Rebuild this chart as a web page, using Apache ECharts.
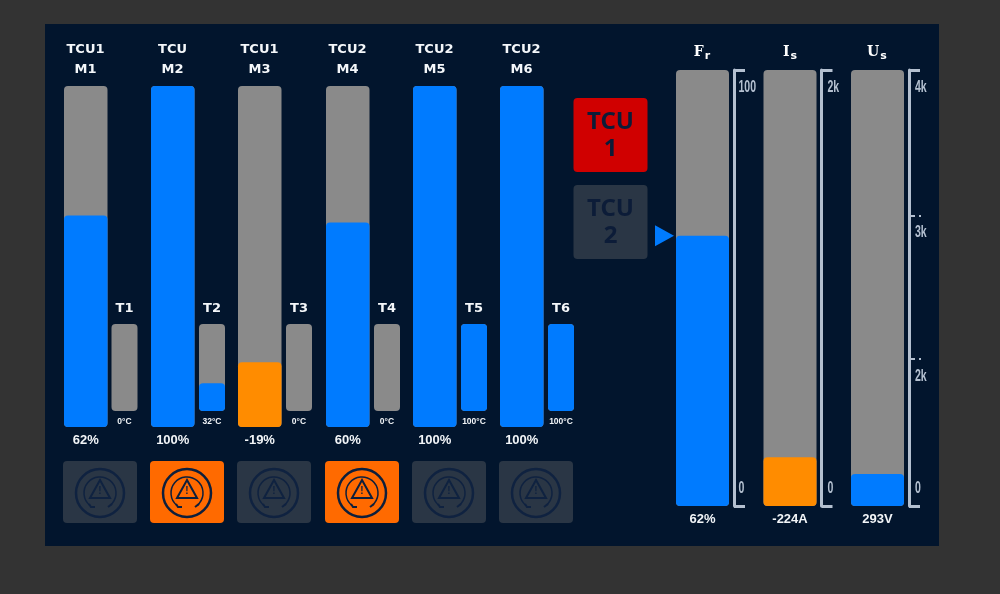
<!DOCTYPE html>
<html lang="en">
<head>
<meta charset="UTF-8">
<title>TCU motors</title>
<script src="https://cdn.jsdelivr.net/npm/echarts@6/dist/echarts.min.js"></script>
<style>
  html, body { margin: 0; padding: 0; background: #333; }
  #main { width: 1000px; height: 594px; }
</style>
</head>
<body>
<div id="main"></div>
<script>
// values
var motorOwners = ['TCU1', 'TCU', 'TCU1', 'TCU2', 'TCU2', 'TCU2'];
var motorNames = ['M1', 'M2', 'M3', 'M4', 'M5', 'M6'];
var motorValues = [62, 100, -19, 60, 100, 100];
var tempNames = ['T1', 'T2', 'T3', 'T4', 'T5', 'T6'];
var tempValues = [0, 32, 0, 0, 100, 100];
var motorAlarms = [0, 1, 0, 1, 0, 0];
var tcuButtons = ['TCU\n1', 'TCU\n2'];

var frValue = 62, isValue = -224, usValue = 293;
var frTicks = [0, 100], frTickLabels = ['0', '100'];
var isTicks = [0, 2000], isTickLabels = ['0', '2k'];
var usTicks = [0, 1350, 2667, 4000], usTickLabels = ['0', '2k', '3k', '4k'];
var usMinorTicks = [1350, 2667];

var BLUE = '#007bff', ORANGE = '#ff8c00', TRACK = '#8a8a8a', PANEL = '#02152d';
var TILE = '#2a3645', ALARM = '#ff6a00', INK = '#0c1c38', AXIS = '#b4c0d0';

var myChart = echarts.init(document.getElementById('main'));

var grids = [], xAxes = [], yAxes = [], series = [];

// one track + one fill in its own grid
function addGauge(box, value, max, unit, labelFont, labelMargin) {
    var i = grids.length;
    grids.push({ left: box.left, top: box.top, width: box.width, height: box.height });
    xAxes.push({
        type: 'category', gridIndex: i, data: [value + unit],
        axisLine: { show: false }, axisTick: { show: false },
        axisLabel: {
            color: '#f2f5f8', fontWeight: 'bold', fontSize: labelFont,
            fontFamily: 'Liberation Sans', margin: labelMargin, interval: 0
        }
    });
    yAxes.push({ type: 'value', gridIndex: i, min: 0, max: max, show: false });
    var yIndex = yAxes.length - 1;
    series.push({
        type: 'bar', xAxisIndex: i, yAxisIndex: yIndex, barWidth: '100%', barGap: '-100%',
        silent: true, animation: false, data: [max],
        itemStyle: { color: TRACK, borderRadius: 4 }
    });
    series.push({
        type: 'bar', xAxisIndex: i, yAxisIndex: yIndex, barWidth: '100%', barGap: '-100%',
        silent: true, animation: false, data: [Math.abs(value)],
        itemStyle: { color: value < 0 ? ORANGE : BLUE, borderRadius: 4 }
    });
    return i;
}

// bracket axis to the right of a big gauge
function addScale(gridIdx, max) {
    yAxes.push({
        type: 'value', gridIndex: gridIdx, min: 0, max: max, position: 'right', offset: 5,
        splitLine: { show: false },
        axisLine: { show: true, lineStyle: { color: AXIS, width: 3 } },
        axisTick: { show: true, length: 11, customValues: [0, max], lineStyle: { color: AXIS, width: 3 } },
        axisLabel: { show: false }
    });
    return yAxes.length - 1;
}

var motorLeft = [64, 151, 238, 326, 413, 500];
var tempLeft = [111.5, 199, 286, 374, 461, 548];
var tileLeft = [63, 150, 237, 325, 412, 499];

motorValues.forEach(function (v, i) {
    addGauge({ left: motorLeft[i], top: 86, width: 43.5, height: 341 }, v, 100, '%', 13, 7);
    addGauge({ left: tempLeft[i], top: 324, width: 26, height: 87 }, tempValues[i], 100, '°C', 8.5, 6);
});

var frGrid = addGauge({ left: 676, top: 70, width: 53, height: 436 }, frValue, 100, '%', 13, 7);
var isGrid = addGauge({ left: 763.5, top: 70, width: 53, height: 436 }, isValue, 2000, 'A', 13, 7);
var usGrid = addGauge({ left: 851, top: 70, width: 53, height: 436 }, usValue, 4000, 'V', 13, 7);
var frScale = addScale(frGrid, 100);
var isScale = addScale(isGrid, 2000);
var usScale = addScale(usGrid, 4000);

// dotted inner ticks of the Us scale
yAxes.push({
    type: 'value', gridIndex: usGrid, min: 0, max: 4000, position: 'right', offset: 5,
    splitLine: { show: false }, axisLine: { show: false }, axisLabel: { show: false },
    axisTick: { show: true, length: 13, customValues: usMinorTicks, lineStyle: { color: AXIS, width: 2, type: [6, 4, 2, 20] } }
});

// marker that follows the Fr value
series.push({
    type: 'scatter', xAxisIndex: frGrid, yAxisIndex: frScale,
    data: [[0, frValue]], symbol: 'triangle', symbolRotate: -90, symbolSize: [21, 19], symbolOffset: [-38, 0],
    clip: false, silent: true, animation: false, itemStyle: { color: BLUE, opacity: 1 }
});

// texts and decorations
var graphics = [{
    type: 'rect', z: -10, silent: true,
    shape: { x: 45, y: 24, width: 894, height: 522 }, style: { fill: PANEL }
}];

function addText(x, y, text, font, size) {
    graphics.push({
        type: 'text', x: x, y: y, silent: true,
        style: {
            text: text, fill: '#f4f7fa', align: 'center', verticalAlign: 'middle',
            font: 'bold ' + size + 'px "' + font + '"'
        }
    });
}

motorNames.forEach(function (name, i) {
    var cx = motorLeft[i] + 21.5;
    addText(cx, 50, motorOwners[i], 'DejaVu Sans', 13);
    addText(cx, 70, name, 'DejaVu Sans', 13);
    addText(tempLeft[i] + 13, 308.5, tempNames[i], 'DejaVu Sans', 13);
});

function addSubTitle(x, main, sub) {
    graphics.push({
        type: 'text', x: x, y: 52, silent: true,
        style: {
            text: '{m|' + main + '}{s|' + sub + '}', align: 'center', verticalAlign: 'middle',
            rich: {
                m: { font: 'bold 14px "DejaVu Serif"', fill: '#ffffff' },
                s: { font: 'bold 11px "DejaVu Sans"', fill: '#ffffff', padding: [8, 0, 0, 1] }
            }
        }
    });
}
addSubTitle(702, 'F', 'r');
addSubTitle(790, 'I', 's');
addSubTitle(877, 'U', 's');

tcuButtons.forEach(function (label, i) {
    var top = i === 0 ? 98 : 185;
    graphics.push({
        type: 'rect', silent: true, shape: { x: 573.5, y: top, width: 74, height: 74, r: 4 },
        style: { fill: i === 0 ? '#d00000' : TILE }
    });
    graphics.push({
        type: 'text', x: 610.5, y: top + 38, silent: true,
        style: {
            text: label, fill: INK, align: 'center', verticalAlign: 'middle', lineHeight: 27,
            font: 'bold 24px "Noto Sans"'
        }
    });
});

// warning icon tiles under the motors
tileLeft.forEach(function (left, i) {
    var cx = left + 37, cy = 493;
    var stroke = motorAlarms[i] ? '#0d1f3c' : '#0f2240';
    var line = function (w) { return { fill: 'none', stroke: stroke, lineWidth: w }; };
    graphics.push({
        type: 'rect', silent: true, shape: { x: left, y: 461, width: 74, height: 62, r: 4 },
        style: { fill: motorAlarms[i] ? ALARM : TILE }
    });
    graphics.push({ type: 'circle', silent: true, shape: { cx: cx, cy: cy, r: 24 }, style: line(2.5) });
    graphics.push({
        type: 'arc', silent: true,
        shape: { cx: cx, cy: cy, r: 16, startAngle: Math.PI * 0.72, endAngle: Math.PI * 0.28, clockwise: true },
        style: line(1.5)
    });
    graphics.push({
        type: 'polyline', silent: true,
        shape: { points: [[cx - 11, cy + 11], [cx - 9, cy + 14], [cx - 5, cy + 14]] }, style: line(2)
    });
    graphics.push({
        type: 'polyline', silent: true,
        shape: { points: [[cx + 8, cy + 14], [cx + 12, cy + 11]] }, style: line(2)
    });
    graphics.push({
        type: 'polygon', silent: true,
        shape: { points: [[cx, cy - 13], [cx + 10, cy + 5], [cx - 10, cy + 5]] }, style: line(2)
    });
    graphics.push({
        type: 'text', x: cx, y: cy - 2, silent: true,
        style: { text: '!', fill: stroke, align: 'center', verticalAlign: 'middle', font: 'bold 10px "Liberation Sans"' }
    });
});

var option = {
    backgroundColor: '#333333',
    animation: false,
    grid: grids,
    xAxis: xAxes,
    yAxis: yAxes,
    series: series,
    graphic: { elements: graphics }
};

myChart.setOption(option);

// scale labels are narrow, so they are squeezed text placed through the axis scale
function addScaleLabels(scaleIdx, right, ticks, labels) {
    ticks.forEach(function (t, i) {
        var y = myChart.convertToPixel({ yAxisIndex: scaleIdx }, t);
        graphics.push({
            type: 'text', x: right, y: t === 0 ? y - 18 : y + 17.5, scaleX: 0.62, silent: true,
            style: {
                text: labels[i], fill: AXIS, align: 'left', verticalAlign: 'middle',
                font: 'bold 17px "Liberation Sans"'
            }
        });
    });
}
addScaleLabels(frScale, 738.5, frTicks, frTickLabels);
addScaleLabels(isScale, 827.5, isTicks, isTickLabels);
addScaleLabels(usScale, 915, usTicks, usTickLabels);

myChart.setOption({ graphic: { elements: graphics } });
</script>
</body>
</html>
